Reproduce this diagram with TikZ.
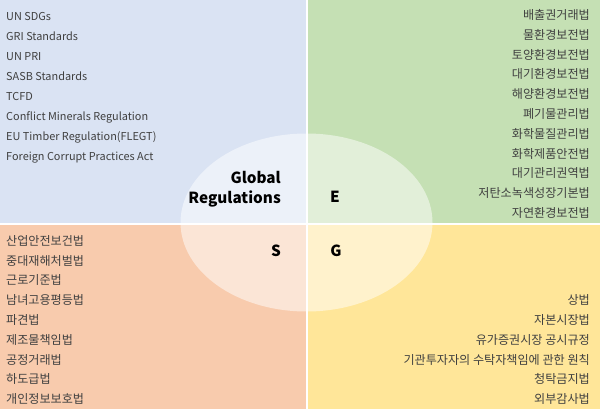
\documentclass[tikz,border=0pt]{standalone}
\usepackage{fontspec}
\setmainfont{Noto Sans CJK KR}
\definecolor{qblue}{HTML}{DAE3F3}
\definecolor{qgreen}{HTML}{C5E0B4}
\definecolor{qorange}{HTML}{F8CBAD}
\definecolor{qyellow}{HTML}{FFE699}
\definecolor{txt}{HTML}{404040}
\begin{document}
\begin{tikzpicture}[x=1pt,y=-1pt,
  item/.style={inner sep=0pt,text=txt},
  lat/.style={item,font=\fontsize{10.9}{13}\selectfont,anchor=base west},
  kl/.style={item,font=\fontsize{12.1}{14}\selectfont,anchor=base west},
  kr/.style={item,font=\fontsize{12.1}{14}\selectfont,anchor=base east},
  lbl/.style={inner sep=0pt,font=\fontsize{15.3}{20}\selectfont\bfseries,text=black}]
\useasboundingbox (0,0) rectangle (600,409);
\fill[white] (0,0) rectangle (600,409);
\fill[qblue] (0,0) rectangle (305.5,222.5);
\fill[qgreen] (307.5,0) rectangle (600,222.5);
\fill[qorange] (0,224.5) rectangle (305.5,409);
\fill[qyellow] (307.5,224.5) rectangle (600,409);
\fill[white,opacity=0.5] (306.5,222.5) ellipse[x radius=126,y radius=89];
% Global
\foreach \t [count=\i] in {UN SDGs,GRI Standards,UN PRI,SASB Standards,TCFD,Conflict Minerals Regulation,EU Timber Regulation(FLEGT),Foreign Corrupt Practices Act}
  \node[lat] (gl\i) at (6,{20.2+20*(\i-1)}) {\t};
% E
\foreach \t [count=\i] in {배출권거래법,물환경보전법,토양환경보전법,대기환경보전법,해양환경보전법,폐기물관리법,화학물질관리법,화학제품안전법,대기관리권역법,저탄소녹색성장기본법,자연환경보전법}
  \node[kr] (e\i) at (590,{19.5+19.8*(\i-1)}) {\t};
% S
\foreach \t [count=\i] in {산업안전보건법,중대재해처벌법,근로기준법,남녀고용평등법,파견법,제조물책임법,공정거래법,하도급법,개인정보보호법}
  \node[kl] (s\i) at (6,{245.2+19.82*(\i-1)}) {\t};
% G
\foreach \t [count=\i] in {상법,자본시장법,유가증권시장 공시규정,기관투자자의 수탁자책임에 관한 원칙,청탁금지법,외부감사법}
  \node[kr] (g\i) at (590,{304.5+19.86*(\i-1)}) {\t};
\node[lbl,align=right,anchor=east] (glob) at (281,189) {Global\\Regulations};
\node[lbl] (E) at (335,197) {E};
\node[lbl] (S) at (276,251) {S};
\node[lbl] (G) at (336,251) {G};
\end{tikzpicture}
\end{document}
